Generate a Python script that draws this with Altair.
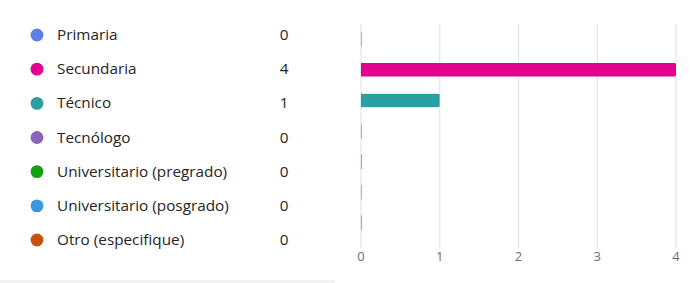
import altair as alt
import pandas as pd

categories = ["Primaria", "Secundaria", "Técnico", "Tecnólogo",
              "Universitario (pregrado)", "Universitario (posgrado)", "Otro (especifique)"]
counts = [0, 4, 1, 0, 0, 0, 0]
colors = ["#5b7fe6", "#e3008c", "#2aa0a4", "#8764b8", "#13a10e", "#3a96dd", "#ca5010"]
ticks = [0, 1, 2, 3, 4]

df = pd.DataFrame({"cat": categories, "n": counts, "col": colors})
tdf = pd.DataFrame({"t": ticks})

FONT = "Open Sans"
xs = alt.Scale(domain=[0, 4], range=[361, 676])
ybar = alt.Scale(domain=categories, range=[24, 238], paddingInner=0, paddingOuter=0)
ytxt = alt.Scale(type="point", domain=categories, range=[35, 240], padding=0)

shadow = alt.Chart(pd.DataFrame({"a": [0]})).mark_rect(color="#f3f3f3").encode(
    x=alt.value(0), x2=alt.value(335), y=alt.value(280), y2=alt.value(283))

grid = alt.Chart(tdf).mark_rule(color="#e1e1e1", strokeWidth=1).encode(
    x=alt.X("t:Q", scale=xs, axis=None),
    y=alt.value(24), y2=alt.value(248))

tick_labels = alt.Chart(tdf).mark_text(font=FONT, fontSize=13, color="#6e6e6e", baseline="middle").encode(
    x=alt.X("t:Q", scale=xs, axis=None),
    y=alt.value(257),
    text="t:Q")

base_ticks = alt.Chart(df).mark_tick(orient="vertical", size=15, thickness=1.2, opacity=0.5).encode(
    x=alt.value(361.5),
    y=alt.Y("cat:N", scale=ybar, axis=None),
    color=alt.Color("col:N", scale=None, legend=None))

bars = alt.Chart(df).mark_bar(size=14, cornerRadius=2, strokeWidth=1, strokeOpacity=0.35).encode(
    x=alt.X("n:Q", scale=xs, axis=None),
    x2=alt.value(361),
    y=alt.Y("cat:N", scale=ybar, axis=None),
    color=alt.Color("col:N", scale=None, legend=None),
    stroke=alt.Stroke("col:N", scale=None, legend=None))

dots = alt.Chart(df).mark_circle(size=165, opacity=1).encode(
    x=alt.value(37),
    y=alt.Y("cat:N", scale=ytxt, axis=None),
    color=alt.Color("col:N", scale=None, legend=None))

labels = alt.Chart(df).mark_text(font=FONT, fontSize=15.3, color="#252423", align="left", baseline="middle").encode(
    x=alt.value(57),
    y=alt.Y("cat:N", scale=ytxt, axis=None),
    text="cat:N")

nums = alt.Chart(df).mark_text(font=FONT, fontSize=15.3, color="#252423", align="center", baseline="middle").encode(
    x=alt.value(284),
    y=alt.Y("cat:N", scale=ytxt, axis=None),
    text="n:Q")

chart = alt.layer(shadow, grid, tick_labels, base_ticks, bars, dots, labels, nums).resolve_scale(
    y="independent", color="independent", stroke="independent"
).properties(
    width=700, height=283,
    autosize=alt.AutoSizeParams(type="none"),
    padding=0,
    background="white",
).configure_view(stroke=None)

chart.save("out.html", embed_options={"renderer": "svg", "actions": False})
